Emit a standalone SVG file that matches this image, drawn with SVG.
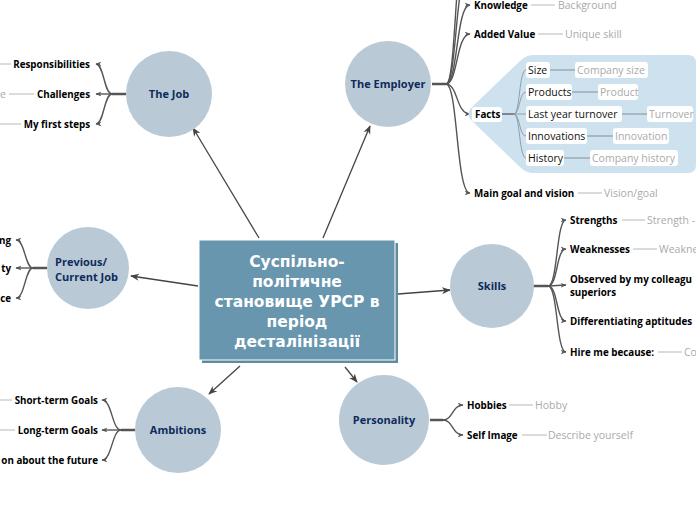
<svg xmlns="http://www.w3.org/2000/svg" width="696" height="520" viewBox="0 0 696 520">
<defs>
<marker id="ah" viewBox="0 0 10 10" refX="9" refY="5" markerWidth="6" markerHeight="6" orient="auto" markerUnits="userSpaceOnUse">
<path d="M0,1 L10,5 L0,9 L3,5 Z" fill="#555"/>
</marker>
<marker id="ahb" viewBox="0 0 10 10" refX="9" refY="5" markerWidth="9" markerHeight="9" orient="auto" markerUnits="userSpaceOnUse">
<path d="M0,1 L10,5 L0,9 L3,5 Z" fill="#444"/>
</marker>
<style>
.c{fill:#b9cad6}
.ct{font-family:"Open Sans","DejaVu Sans",sans-serif;font-weight:bold;font-size:11px;fill:#0f2b5b;text-anchor:middle}
.ctl{font-family:"Open Sans","DejaVu Sans",sans-serif;font-weight:bold;font-size:11px;fill:#0f2b5b}
.lb{font-family:"Open Sans","DejaVu Sans",sans-serif;font-weight:bold;font-size:9.8px;fill:#000}
.gr{font-family:"Open Sans","DejaVu Sans",sans-serif;font-size:10.5px;fill:#aaa}
.ft{font-family:"Open Sans","DejaVu Sans",sans-serif;font-size:10.5px;fill:#111}
.br{fill:none;stroke:#555;stroke-width:1.4}
.tr{fill:none;stroke:#555;stroke-width:2.5}
.mn{fill:none;stroke:#444;stroke-width:1.3}
.gl{stroke:#c4c4c4;stroke-width:1.2}
.fl{stroke:#a9b7c0;stroke-width:2}
.fc{fill:none;stroke:#8a979f;stroke-width:0.9}
.wb{fill:#fff}
</style>
</defs>
<rect width="696" height="520" fill="#fff"/>

<g id="connectors">
<line class="mn" x1="259" y1="238" x2="193" y2="128" marker-end="url(#ahb)"/>
<line class="mn" x1="323" y1="238" x2="370" y2="126" marker-end="url(#ahb)"/>
<line class="mn" x1="198" y1="286" x2="131" y2="276" marker-end="url(#ahb)"/>
<line class="mn" x1="398" y1="294" x2="450" y2="290" marker-end="url(#ahb)"/>
<line class="mn" x1="240" y1="366" x2="209" y2="394" marker-end="url(#ahb)"/>
<line class="mn" x1="345" y1="367" x2="357" y2="382" marker-end="url(#ahb)"/>

<line class="tr" x1="126" y1="94" x2="112" y2="94"/>
<path class="br" d="M112,94 C104,94 104,64 96,64" marker-end="url(#ah)"/>
<path class="br" d="M112,94 L96,94" marker-end="url(#ah)"/>
<path class="br" d="M112,94 C104,94 104,124 96,124" marker-end="url(#ah)"/>
<line class="gl" x1="0" y1="64" x2="11" y2="64"/>
<line class="gl" x1="9" y1="94" x2="34" y2="94"/>
<line class="gl" x1="0" y1="124" x2="21" y2="124"/>

<line class="tr" x1="432" y1="84" x2="446" y2="84"/>
<path class="br" d="M446,84 C457,84 454,-70 470,-80"/>
<path class="br" d="M446,84 C457,84 455,-30 470,-36"/>
<path class="br" d="M446,84 C458,84 456,5 470,5" marker-end="url(#ah)"/>
<path class="br" d="M446,84 C458,84 456,34 470,34" marker-end="url(#ah)"/>
<path class="br" d="M446,84 C458,84 456,114 470,114" marker-end="url(#ah)"/>
<path class="br" d="M446,84 C458,84 456,193 470,193" marker-end="url(#ah)"/>
<line class="gl" x1="531" y1="5" x2="555" y2="5"/>
<line class="gl" x1="538" y1="34" x2="563" y2="34"/>
<line class="gl" x1="578" y1="193" x2="602" y2="193"/>

<line class="tr" x1="47" y1="268" x2="33" y2="268"/>
<path class="br" d="M33,268 C25,268 25,240 16,240" marker-end="url(#ah)"/>
<path class="br" d="M33,268 L16,268" marker-end="url(#ah)"/>
<path class="br" d="M33,268 C25,268 25,298 16,298" marker-end="url(#ah)"/>

<line class="tr" x1="533" y1="286" x2="548" y2="286"/>
<path class="br" d="M548,286 C558,286 556,220 566,220" marker-end="url(#ah)"/>
<path class="br" d="M548,286 C558,286 556,249 566,249" marker-end="url(#ah)"/>
<path class="br" d="M548,286 L566,285" marker-end="url(#ah)"/>
<path class="br" d="M548,286 C558,286 556,321 566,321" marker-end="url(#ah)"/>
<path class="br" d="M548,286 C558,286 556,352 566,352" marker-end="url(#ah)"/>
<line class="gl" x1="622" y1="220" x2="645" y2="220"/>
<line class="gl" x1="633" y1="249" x2="657" y2="249"/>
<line class="gl" x1="658" y1="352" x2="682" y2="352"/>

<line class="tr" x1="135" y1="430" x2="121" y2="430"/>
<path class="br" d="M121,430 C112,430 112,400 102,400" marker-end="url(#ah)"/>
<path class="br" d="M121,430 L102,430" marker-end="url(#ah)"/>
<path class="br" d="M121,430 C112,430 112,460 102,460" marker-end="url(#ah)"/>
<line class="gl" x1="0" y1="400" x2="12" y2="400"/>
<line class="gl" x1="0" y1="430" x2="15" y2="430"/>

<line class="tr" x1="430" y1="420" x2="443" y2="420"/>
<path class="br" d="M443,420 C453,420 452,405 463,405" marker-end="url(#ah)"/>
<path class="br" d="M443,420 C453,420 452,435 463,435" marker-end="url(#ah)"/>
<line class="gl" x1="509" y1="405" x2="533" y2="405"/>
<line class="gl" x1="522" y1="435" x2="547" y2="435"/>
</g>

<g id="central">
<rect x="202" y="243" width="196" height="120" fill="#5e8ca3"/>
<rect x="199" y="240" width="196" height="120" fill="#6796ae" stroke="#fff" stroke-width="1"/>
<g font-family="'DejaVu Sans',Verdana,sans-serif" font-weight="bold" font-size="15.5px" fill="#fff" text-anchor="middle">
<text x="297" y="267">Суспільно-</text>
<text x="297" y="287">політичне</text>
<text x="297" y="307">становище УРСР в</text>
<text x="297" y="327">період</text>
<text x="297" y="347">десталінізації</text>
</g>
</g>

<g id="the-job">
<circle class="c" cx="169" cy="94" r="43"/>
<text class="ct" x="169" y="98">The Job</text>
<text class="lb" x="90" y="67.5" text-anchor="end">Responsibilities</text>
<text class="lb" x="90" y="97.5" text-anchor="end">Challenges</text>
<text class="lb" x="90" y="127.5" text-anchor="end">My first steps</text>
<text class="gr" x="6" y="97.5" text-anchor="end">e</text>
</g>

<g id="the-employer">
<circle class="c" cx="388" cy="84" r="43"/>
<text class="ct" x="388" y="88">The Employer</text>
<text class="lb" x="474" y="8.5">Knowledge</text>
<text class="gr" x="558" y="9">Background</text>
<text class="lb" x="474" y="37.5">Added Value</text>
<text class="gr" x="565" y="38">Unique skill</text>
<text class="lb" x="474" y="196.5">Main goal and vision</text>
<text class="gr" x="604" y="197">Vision/goal</text>
</g>

<g id="facts">
<path d="M533,55 H688 Q696,55 696,63 V165 Q696,173 688,173 H533 Q526,173 520,167 L471,120 Q466,114 471,108 L520,61 Q526,55 533,55 Z" fill="#cde2ee"/>
<rect class="wb" x="472" y="107" width="30" height="15" rx="3"/>
<text class="lb" x="475" y="117.5">Facts</text>
<line x1="502" y1="114" x2="514" y2="114" stroke="#7a878f" stroke-width="2"/>
<path class="fc" d="M514,114 C520,114 519,70 526,70"/>
<path class="fc" d="M514,114 C520,114 519,92 526,92"/>
<path class="fc" d="M514,114 L526,114"/>
<path class="fc" d="M514,114 C520,114 519,136 526,136"/>
<path class="fc" d="M514,114 C520,114 519,158 526,158"/>
<line class="fl" x1="550" y1="70" x2="575" y2="70"/>
<line class="fl" x1="572" y1="92" x2="598" y2="92"/>
<line class="fl" x1="622" y1="114" x2="647" y2="114"/>
<line class="fl" x1="587" y1="136" x2="613" y2="136"/>
<line class="fl" x1="564" y1="158" x2="590" y2="158"/>
<rect class="wb" x="526" y="62" width="24" height="16" rx="3"/>
<rect class="wb" x="526" y="84" width="46" height="16" rx="3"/>
<rect class="wb" x="526" y="106" width="96" height="16" rx="3"/>
<rect class="wb" x="526" y="128" width="61" height="16" rx="3"/>
<rect class="wb" x="526" y="150" width="38" height="16" rx="3"/>
<rect class="wb" x="575" y="62" width="73" height="16" rx="3"/>
<rect class="wb" x="598" y="84" width="40" height="16" rx="3"/>
<rect class="wb" x="647" y="106" width="46" height="16" rx="3"/>
<rect class="wb" x="613" y="128" width="56" height="16" rx="3"/>
<rect class="wb" x="590" y="150" width="88" height="16" rx="3"/>
<text class="ft" x="528" y="74">Size</text>
<text class="ft" x="528" y="96">Products</text>
<text class="ft" x="528" y="118">Last year turnover</text>
<text class="ft" x="528" y="140">Innovations</text>
<text class="ft" x="528" y="162">History</text>
<text class="gr" x="577" y="74">Company size</text>
<text class="gr" x="600" y="96">Product</text>
<text class="gr" x="649" y="118">Turnover</text>
<text class="gr" x="615" y="140">Innovation</text>
<text class="gr" x="592" y="162">Company history</text>
</g>

<g id="previous-job">
<circle class="c" cx="88" cy="268" r="41"/>
<text class="ctl" x="55" y="266">Previous/</text>
<text class="ctl" x="55" y="281">Current Job</text>
<text class="lb" x="11" y="243.5" text-anchor="end">ng</text>
<text class="lb" x="11" y="271.5" text-anchor="end">ty</text>
<text class="lb" x="11" y="301.5" text-anchor="end">ce</text>
</g>

<g id="skills">
<circle class="c" cx="492" cy="286" r="42"/>
<text class="ct" x="492" y="290">Skills</text>
<text class="lb" x="570" y="223.5">Strengths</text>
<text class="gr" x="647" y="224">Strength -</text>
<text class="lb" x="570" y="252.5">Weaknesses</text>
<text class="gr" x="659" y="253">Weakne</text>
<text class="lb" x="570" y="282.5">Observed by my colleagu</text>
<text class="lb" x="570" y="295.5">superiors</text>
<text class="lb" x="570" y="324.5">Differentiating aptitudes</text>
<text class="lb" x="570" y="355.5">Hire me because:</text>
<text class="gr" x="684" y="356">Co</text>
</g>

<g id="ambitions">
<circle class="c" cx="178" cy="430" r="43"/>
<text class="ct" x="178" y="434">Ambitions</text>
<text class="lb" x="98" y="403.5" text-anchor="end">Short-term Goals</text>
<text class="lb" x="98" y="433.5" text-anchor="end">Long-term Goals</text>
<text class="lb" x="98" y="463.5" text-anchor="end">on about the future</text>
</g>

<g id="personality">
<circle class="c" cx="384" cy="420" r="45"/>
<text class="ct" x="384" y="424">Personality</text>
<text class="lb" x="467" y="408.5">Hobbies</text>
<text class="gr" x="535" y="409">Hobby</text>
<text class="lb" x="467" y="438.5">Self Image</text>
<text class="gr" x="548" y="439">Describe yourself</text>
</g>
</svg>
